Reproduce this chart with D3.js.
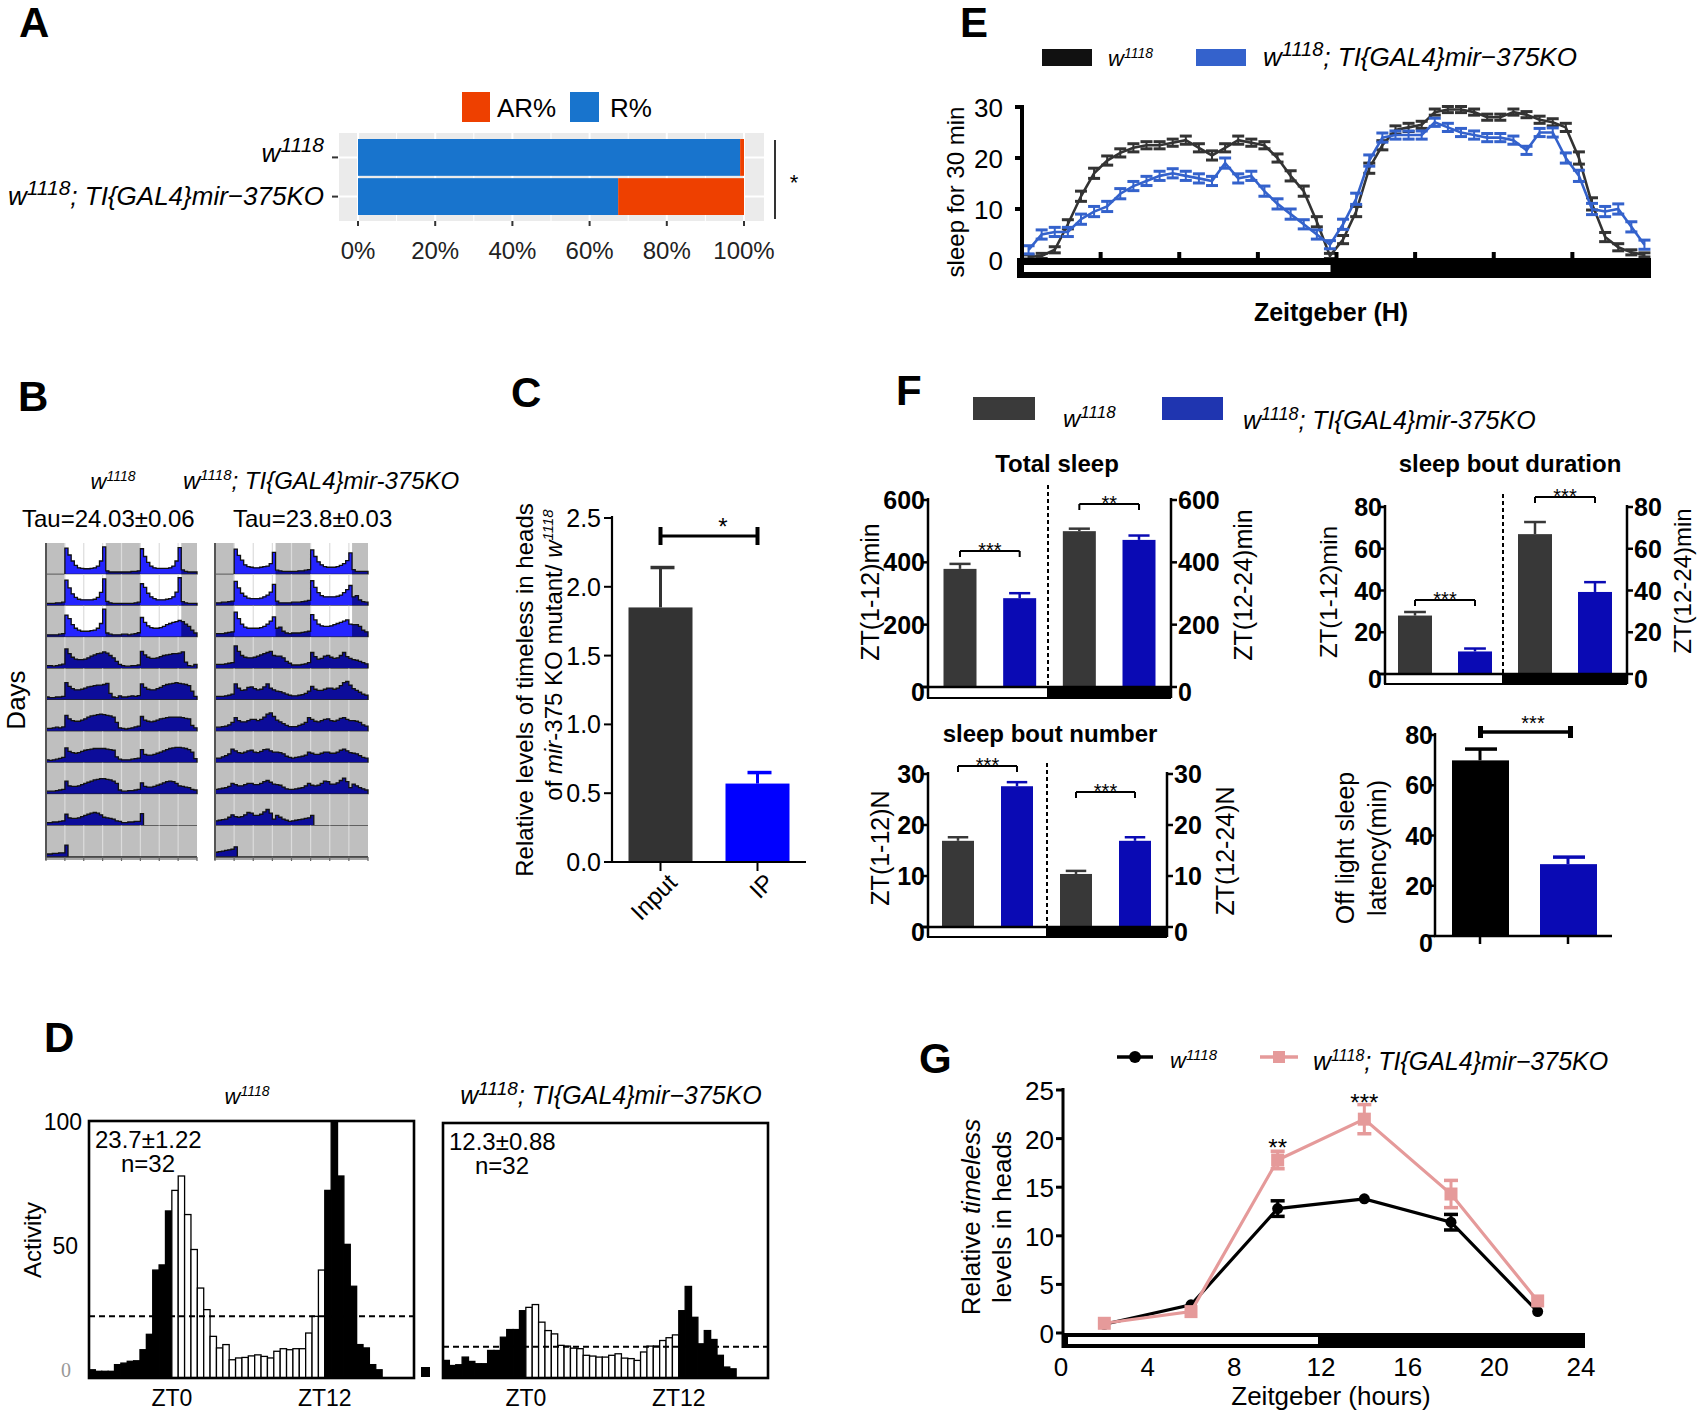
<!DOCTYPE html>
<html>
<head>
<meta charset="utf-8">
<script src="https://cdn.jsdelivr.net/npm/d3@7"></script>
<style>
  body { margin: 0; background: #fff; }
  text { font-family: "Liberation Sans", Arial, sans-serif; }
</style>
</head>
<body>
<div id="fig"></div>
<script>
// ---------- data ----------
// A: rhythmicity
const aGroups = ["w1118", "w1118; TI{GAL4}mir-375KO"];
const aR = [99, 67.4];
const aAR = [1, 32.6];
const aTicks = [0, 20, 40, 60, 80, 100];

// B: actogram, hourly activity per day (0-10 of row height)
const bTau = ["Tau=24.03±0.06", "Tau=23.8±0.03"];
const wtDays = [
  [null,null,null,null,null,null, 8.8,6.5,4.5,3,2.2,2,1.9,1.9,2,2.2,2.8,4.5,9.2,1.2,0.8,0.8,0.8,0.8],
  [0.8,0.8,0.8,1,1,1.2, 8.6,6,4,2.8,2.2,2,2,2,2,2.2,2.8,4.5,9,1.5,1,0.8,0.8,0.8],
  [0.8,0.8,0.8,0.8,1,1.2, 7.4,6.2,4.2,3,2.4,2,2,2,2.2,2.4,3,4.6,9.4,1.4,1,0.8,0.8,0.8],
  [1,1,0.8,1,1.2,1.5, 6.6,5,3.8,3.2,3,3,3.2,3.6,4.2,4.6,5,5.2,5.6,5.2,4.4,3.6,2.4,1.4],
  [1,0.8,0.8,1,1,1.2, 5.8,4.6,3.8,3.4,3.4,3.6,4,4.4,4.6,4.8,5,5,5.2,5.6,2.2,1,0.8,1.4],
  [1,1,1.2,1.4,1.2,1.5, 5.4,4.2,3.6,3.4,3.4,3.8,4.2,4.8,5.2,5.4,5.6,5.8,5.6,5.4,5.2,4.8,3,1.2],
  [1,0.8,1,1.2,1.5,1.8, 5,3.8,3.4,3.2,3.4,3.8,4.2,4.4,4.6,4.8,4.8,4.8,4.8,4.6,4.4,4.2,2,1.2],
  [1,1,1,1.2,1.4,1.6, 4.4,2.8,2.6,2.6,2.8,3.2,3.6,4,4.4,4.8,5,5.2,5.2,5,4.8,4.4,3.6,1.4],
  [1,1,1.2,1.2,1.4,1.6, 3.8,2.6,2.4,2.4,2.6,3,3.4,3.8,4.2,4.4,4.2,3.6,2.8,2.6,2.4,2.2,1.6,1.4],
  [1,1,1.2,1.2,1.4,1.4, 4]
];
const koDays = [
  [null,null,null,null,null,null, 8.5,6.4,4.8,3.2,2.6,2.4,2.2,2.2,2.4,2.6,2.8,3.6,7.4,1.4,1.2,1,1,1],
  [1,1,1.2,1.2,1.4,1.6, 8.2,6,4.2,3.2,2.6,2.4,2.4,2.4,2.6,3,3.6,4.6,7.2,1.6,1,1,1,1],
  [1.2,1.2,1.2,1.4,1.6,1.8, 8.4,6.2,4.4,3.4,3,3,3,3,3.2,3.6,4.4,5.4,6.8,3,3.4,2,1.4,1.2],
  [1.4,1.4,1.4,1.6,1.8,2, 7.6,5.8,4.4,3.8,3.6,3.6,3.8,4.2,4.6,5,5.4,5.8,4.4,4.2,4.2,3.6,2.4,1.8],
  [1.2,1.2,1.2,1.4,1.6,2, 5.4,4,3.2,3.4,4.2,4.4,3.8,3.4,3.6,4.4,5.4,4,3.4,3,2.8,2.4,2,1.6],
  [1.4,1.4,1.6,1.8,2.2,3, 4.6,3.6,3.2,3.2,3.6,4,4,3.6,4,4.8,5.8,6.2,5,3.8,3.2,2.6,2,1.6],
  [1.6,1.6,2,2.4,3,4.6, 4,3.4,3.2,3.6,4,4.2,3.6,3.4,3.8,4.4,4.6,4,3.6,3.6,3.4,3,2.2,1.8],
  [1.6,1.8,2,2.2,2.6,3.6, 3.2,2.8,2.8,3.2,3.6,3.6,3.2,3.2,3.6,4.2,4.6,4,3.4,3.2,3,2.4,1.8,1.6],
  [1.6,1.8,2,2.2,2.8,3.6, 3,2.8,3,3.6,4.4,4.2,3.4,3.4,3.8,4.6,5.4,4.2,2.2,3.4,2.8,2.2,1.8,1.4],
  [1.6,1.8,2,2.2,2.4,2.6, 3.4]
];

// C
const cCats = ["Input", "IP"];
const cMeans = [1.85, 0.57];
const cErr = [0.29, 0.08];
const cTicks = [0, 0.5, 1.0, 1.5, 2.0, 2.5];

// D: 30-min bins starting at ZT -6.5
const dWT = [3.2,2.6,2.6,2.6,5.2,5.8,6.5,6.7,11,17,42,44,65,
  73,78.6,63.6,50,35,26.6,16.2,11.7,13,7.1,7.8,8,8.6,9,8.4,7.8,10.4,11.4,11,11.4,11.4,17.5,24,42,
  73,100,78.6,52,35.7,13,11.7,5.2,3.2];
const dKO = [6.9,4.9,5.2,8.2,6.5,5.6,5.6,10.8,10.8,16,19,19,26.4,
  27.7,28.8,21.9,18.6,17.3,12.8,12.5,11.7,11.5,8.9,8.6,8.2,8.2,8.9,9.5,7.8,7.6,6.9,10.2,12.5,12.5,14.7,15.8,16.9,
  26.4,35.9,23.8,13.4,18.6,15.1,8.9,4.3,3.6];
const dThr = [24, 12.3];
const dStats = [["23.7±1.22", "n=32"], ["12.3±0.88", "n=32"]];

// E: sleep per 30 min
const eWT = [0.6,0.8,2,7,12.5,17,19.5,21,22,22.5,22.5,23,23.5,22,20.5,22,23.5,23,22.5,20,16.5,13.5,7.5,0.8,
  4,9.5,18,22.5,25.5,26,26.5,29,29.5,29.5,29,28,28,29,28.5,27.5,27,26,20,11,4.5,2.5,1.5,1];
const eKO = [2,5,5.5,5.5,8,9.5,10.5,13,14.5,15.5,16.5,17,16.5,16,15.5,19,16,16.5,13.5,11,9,7,5,3,
  7,12,19.5,24,24.5,24.5,24.5,27,26,25,24.5,24,24,23.5,21.5,25,25,20,16.5,10,9.5,10,6.5,3];
const eSemWT = [0.4,0.5,0.6,0.9,1.0,1.0,0.9,0.8,0.8,0.7,0.7,0.7,0.8,0.8,0.9,0.8,0.8,0.7,0.7,0.8,1.0,1.0,1.0,0.5,
  0.8,1.0,1.0,0.9,0.8,0.8,0.7,0.6,0.6,0.6,0.6,0.6,0.6,0.6,0.6,0.7,0.7,0.8,1.2,1.2,0.9,0.7,0.5,0.4];
const eSemKO = [0.8,0.9,0.9,0.9,1.0,1.0,1.0,1.0,0.9,0.9,0.9,0.9,0.9,0.9,0.9,1.0,0.9,0.9,1.0,1.0,1.0,0.9,0.9,0.8,
  1.0,1.1,1.1,0.9,0.8,0.8,0.8,0.8,0.8,0.8,0.8,0.8,0.8,0.8,0.8,0.8,0.9,1.0,1.1,1.1,1.0,1.0,1.0,0.9];

// F
const fCats = ["wL", "kL", "wD", "kD"];
const fTotal = [379, 285, 500, 472];
const fTotalErr = [16, 16, 8, 14];
const fBoutNum = [16.9, 27.6, 10.4, 16.9];
const fBoutNumErr = [0.7, 0.8, 0.6, 0.7];
const fBoutDur = [28, 10.8, 67, 39.3];
const fBoutDurErr = [1.7, 1.4, 5.8, 4.7];
const fLatency = [69.9, 28.6];
const fLatencyErr = [4.5, 2.8];

// G
const gZT = [2, 6, 10, 14, 18, 22];
const gWT = [0.9, 2.9, 12.8, 13.8, 11.4, 2.2];
const gWTerr = [0.3, 0.3, 0.8, 0.3, 0.8, 0.2];
const gKO = [1.0, 2.2, 17.8, 22.0, 14.3, 3.3];
const gKOerr = [0.3, 0.3, 0.9, 1.5, 1.4, 0.3];

// ---------- helpers ----------
const svg = d3.select("#fig").append("svg").attr("width", 1700).attr("height", 1413);

function txt(g, x, y, s, o = {}) {
  const t = g.append("text").attr("x", x).attr("y", y).text(s)
    .attr("font-size", o.fs || 24)
    .attr("text-anchor", o.anchor || "start")
    .attr("fill", o.fill || "#000");
  if (o.bold) t.attr("font-weight", "bold");
  if (o.italic) t.attr("font-style", "italic");
  if (o.family) t.style("font-family", o.family);
  if (o.rot) t.attr("transform", `rotate(${o.rot},${x},${y})`);
  return t;
}

function geno(g, x, y, suffix, o = {}) {
  const fs = o.fs || 24, ss = o.sup || fs * 0.72, up = o.up || fs * 0.38;
  const t = g.append("text").attr("x", x).attr("y", y).attr("font-size", fs)
    .attr("font-style", "italic").attr("text-anchor", o.anchor || "start");
  t.append("tspan").text("w");
  t.append("tspan").attr("font-size", ss).attr("dy", -up).text("1118");
  if (suffix) t.append("tspan").attr("dy", up).text(suffix);
  return t;
}

function line(g, x1, y1, x2, y2, w, c, dash) {
  const l = g.append("line").attr("x1", x1).attr("y1", y1).attr("x2", x2).attr("y2", y2)
    .attr("stroke", c || "#000").attr("stroke-width", w || 2);
  if (dash) l.attr("stroke-dasharray", dash);
  return l;
}

// panel letters
[["A", 19, 37], ["B", 18, 411], ["C", 511, 407], ["D", 44, 1052], ["E", 960, 37], ["F", 896, 405], ["G", 919, 1073]]
  .forEach(([s, x, y]) => txt(svg, x, y, s, { fs: 42, bold: true }));

// ---------- A ----------
const gA = svg.append("g");
const aX = d3.scaleLinear().domain([0, 100]).range([358, 744]);
const aY = d3.scaleBand().domain(aGroups).range([139, 215]).paddingInner(0.06);
gA.append("rect").attr("x", 339).attr("y", 133).attr("width", 425).attr("height", 88).attr("fill", "#ebebeb");
[10, 30, 50, 70, 90].forEach(v => line(gA, aX(v), 133, aX(v), 221, 1, "#fff"));
aTicks.forEach(v => line(gA, aX(v), 133, aX(v), 221, 2, "#fff"));
aGroups.forEach(gr => line(gA, 339, aY(gr) + aY.bandwidth() / 2, 764, aY(gr) + aY.bandwidth() / 2, 2, "#fff"));
aGroups.forEach((gr, i) => {
  gA.append("rect").attr("x", aX(0)).attr("y", aY(gr)).attr("width", aX(aR[i]) - aX(0))
    .attr("height", aY.bandwidth()).attr("fill", "#1874cd");
  gA.append("rect").attr("x", aX(aR[i])).attr("y", aY(gr)).attr("width", aX(aR[i] + aAR[i]) - aX(aR[i]))
    .attr("height", aY.bandwidth()).attr("fill", "#ee4000");
  const cy = aY(gr) + aY.bandwidth() / 2;
  line(gA, 332, cy, 338, cy, 2, "#333");
});
geno(gA, 324, aY(aGroups[0]) + aY.bandwidth() / 2 + 5, "", { fs: 26, sup: 21, up: 10, anchor: "end" });
geno(gA, 324, aY(aGroups[1]) + aY.bandwidth() / 2 + 8, "; TI{GAL4}mir\u2212375KO", { fs: 26, sup: 21, up: 10, anchor: "end" });
aTicks.forEach(v => {
  line(gA, aX(v), 221, aX(v), 226, 2, "#333");
  txt(gA, aX(v), 259, v + "%", { fs: 24, anchor: "middle", fill: "#222" });
});
gA.append("rect").attr("x", 462).attr("y", 92).attr("width", 28).attr("height", 30).attr("fill", "#ee4000");
txt(gA, 497, 117, "AR%", { fs: 26 });
gA.append("rect").attr("x", 570).attr("y", 92).attr("width", 29).attr("height", 30).attr("fill", "#1874cd");
txt(gA, 610, 117, "R%", { fs: 26 });
line(gA, 775, 140, 775, 219, 1.6, "#000");
txt(gA, 794, 190, "*", { fs: 22, anchor: "middle" });

// ---------- B ----------
const gB = svg.append("g");
geno(gB, 113, 489, "", { fs: 22, sup: 14, up: 8, anchor: "middle" });
geno(gB, 183, 489, "; TI{GAL4}mir-375KO", { fs: 24, sup: 15, up: 9 });
txt(gB, 22, 527, bTau[0], { fs: 24 });
txt(gB, 233, 527, bTau[1], { fs: 24 });
txt(gB, 25, 700, "Days", { fs: 26, anchor: "middle", rot: -90 });

const lightOn = [[6, 19], [30, 43]];
function actogram(days, x0, x1, id) {
  const g = gB.append("g");
  const tx = d3.scaleLinear().domain([0, 48]).range([x0, x1]);
  const rowY = d3.scaleBand().domain(d3.range(10)).range([543, 857]);
  const bw = rowY.bandwidth();
  const vy = d3.scaleLinear().domain([0, 10]).range([0, bw * 0.95]);
  const clip = svg.append("clipPath").attr("id", id);
  d3.range(3).forEach(r => lightOn.forEach(([a, b]) =>
    clip.append("rect").attr("x", tx(a)).attr("y", rowY(r)).attr("width", tx(b) - tx(a)).attr("height", bw)));
  d3.range(10).forEach(r => {
    const top = rowY(r), base = top + bw;
    g.append("rect").attr("x", x0).attr("y", top).attr("width", x1 - x0).attr("height", bw).attr("fill", "#bfbfbf");
    if (r < 3) lightOn.forEach(([a, b]) =>
      g.append("rect").attr("x", tx(a)).attr("y", top).attr("width", tx(b) - tx(a)).attr("height", bw).attr("fill", "#fff"));
    d3.range(6, 48, 6).forEach(t => line(g, tx(t), top, tx(t), base, 1.2, "#dcdcdc"));
    const pts = [];
    [[days[r], 0], [days[r + 1], 24]].forEach(([day, off]) => {
      if (!day) return;
      day.forEach((v, h) => {
        if (v == null) return;
        pts.push({ t: off + h, v }, { t: off + h + 1, v });
      });
    });
    if (!pts.length) return;
    pts.unshift({ t: pts[0].t, v: 0 });
    pts.push({ t: pts[pts.length - 1].t, v: 0 });
    const area = d3.area().x(d => tx(d.t)).y0(base).y1(d => base - vy(d.v));
    g.append("path").attr("d", area(pts)).attr("fill", "#0c0c9a");
    if (r < 3) g.append("path").attr("d", area(pts)).attr("fill", "#2424ff").attr("clip-path", `url(#${id})`);
    g.append("path").attr("d", d3.line().x(d => tx(d.t)).y(d => base - vy(d.v))(pts))
      .attr("fill", "none").attr("stroke", "#111").attr("stroke-width", 1.3);
    line(g, x0, base, x1, base, 1.3, "#222");
  });
  line(g, x0, 543, x0, 860, 2, "#555");
  line(g, x0, 859, x1, 859, 1.5, "#888");
  d3.range(0, 49, 6).forEach(t => line(g, tx(t), 857, tx(t), 861, 1.2, "#666"));
}
actogram(wtDays, 46, 197, "clipWT");
actogram(koDays, 215, 368, "clipKO");

// ---------- C ----------
const gC = svg.append("g");
const cY = d3.scaleLinear().domain([0, 2.5]).range([862, 518]);
const cX = d3.scalePoint().domain(cCats).range([612, 806]).padding(0.5);
const cCol = ["#333333", "#0000ff"];
cCats.forEach((c, i) => {
  const x = cX(c);
  gC.append("rect").attr("x", x - 32).attr("y", cY(cMeans[i])).attr("width", 64)
    .attr("height", cY(0) - cY(cMeans[i])).attr("fill", cCol[i]);
  line(gC, x, cY(cMeans[i]), x, cY(cMeans[i] + cErr[i]), 3, cCol[i]);
  line(gC, x - 10, cY(cMeans[i] + cErr[i]), x + 14, cY(cMeans[i] + cErr[i]), 3.5, cCol[i]);
  line(gC, x, 862, x, 871, 2, "#000");
  txt(gC, x + 18, 884, c, { fs: 24, anchor: "end", rot: -45 });
});
line(gC, 612, 516, 612, 863, 2.2);
line(gC, 611, 862, 806, 862, 2.2);
cTicks.forEach(v => {
  line(gC, 604, cY(v), 612, cY(v), 2);
  txt(gC, 601, cY(v) + 9, v.toFixed(1), { fs: 25, anchor: "end" });
});
line(gC, cX("Input"), 536, cX("IP"), 536, 3.2);
line(gC, cX("Input"), 527, cX("Input"), 545, 4);
line(gC, cX("IP"), 527, cX("IP"), 545, 4);
txt(gC, 723, 535, "*", { fs: 24, anchor: "middle" });
{
  txt(gC, 533, 690, "Relative levels of timeless in heads", { fs: 24, anchor: "middle", rot: -90 });
  const t2 = gC.append("text").attr("x", 562).attr("y", 655).attr("font-size", 24).attr("text-anchor", "middle")
    .attr("transform", "rotate(-90,562,655)");
  t2.append("tspan").text("of ");
  t2.append("tspan").attr("font-style", "italic").text("mir");
  t2.append("tspan").text("-375 KO mutant/ ");
  t2.append("tspan").attr("font-style", "italic").text("w");
  t2.append("tspan").attr("font-style", "italic").attr("font-size", 15).attr("dy", -9).text("1118");
}

// ---------- D ----------
const gD = svg.append("g");
function activity(vals, thr, stats, x0, x1, top, bot) {
  const x = d3.scaleLinear().domain([-6.5, 19]).range([x0, x1]);
  const y = d3.scaleLinear().domain([0, 100]).range([bot, top]);
  vals.forEach((v, i) => {
    const zt = -6.5 + i * 0.5;
    const light = zt >= 0 && zt < 12;
    gD.append("rect").attr("x", x(zt)).attr("y", y(v)).attr("width", x(zt + 0.5) - x(zt))
      .attr("height", y(0) - y(v)).attr("fill", light ? "#fff" : "#000")
      .attr("stroke", "#000").attr("stroke-width", 1.3);
  });
  line(gD, x0, y(thr), x1, y(thr), 2, "#000", "6,4");
  gD.append("rect").attr("x", x0).attr("y", top).attr("width", x1 - x0).attr("height", bot - top)
    .attr("fill", "none").attr("stroke", "#000").attr("stroke-width", 2.6);
  txt(gD, x0 + 6, top + 27, stats[0], { fs: 24 });
  txt(gD, x0 + 32, top + 51, stats[1], { fs: 24 });
  txt(gD, x(0), 1406, "ZT0", { fs: 23, anchor: "middle" });
  txt(gD, x(12), 1406, "ZT12", { fs: 23, anchor: "middle" });
}
activity(dWT, dThr[0], dStats[0], 89, 414, 1121, 1378);
activity(dKO, dThr[1], dStats[1], 443, 768, 1123, 1378);
geno(gD, 247, 1104, "", { fs: 22, sup: 14, up: 8, anchor: "middle" });
geno(gD, 611, 1104, "; TI{GAL4}mir\u2212375KO", { fs: 25, sup: 19, up: 9, anchor: "middle" });
txt(gD, 82, 1130, "100", { fs: 23, anchor: "end" });
txt(gD, 78, 1254, "50", { fs: 23, anchor: "end" });
txt(gD, 66, 1377, "0", { fs: 20, anchor: "middle", fill: "#999", family: '"Liberation Serif", serif' });
txt(gD, 41, 1240, "Activity", { fs: 24, anchor: "middle", rot: -90 });
gD.append("rect").attr("x", 421).attr("y", 1367).attr("width", 9).attr("height", 10).attr("fill", "#000");

// ---------- E ----------
const gE = svg.append("g");
const eX = d3.scaleLinear().domain([0, 24]).range([1022, 1651]);
const eY = d3.scaleLinear().domain([0, 30]).range([260, 107]);
const eZT = d3.range(48).map(i => 0.25 + i * 0.5);
gE.append("rect").attr("x", 1042).attr("y", 49).attr("width", 50).attr("height", 17).attr("fill", "#111");
geno(gE, 1108, 66, "", { fs: 22, sup: 14, up: 8 });
gE.append("rect").attr("x", 1196).attr("y", 49).attr("width", 50).attr("height", 17).attr("fill", "#3462cc");
geno(gE, 1263, 66, "; TI{GAL4}mir\u2212375KO", { fs: 26, sup: 20, up: 10 });
function eSeries(vals, sem, col) {
  vals.forEach((v, i) => {
    const x = eX(eZT[i]);
    line(gE, x, eY(v - sem[i]), x, eY(v + sem[i]), 2, col);
    line(gE, x - 6, eY(v + sem[i]), x + 6, eY(v + sem[i]), 3, col);
    line(gE, x - 6, eY(v - sem[i]), x + 6, eY(v - sem[i]), 3, col);
  });
  gE.append("path").attr("d", d3.line().x((d, i) => eX(eZT[i])).y(d => eY(d))(vals))
    .attr("fill", "none").attr("stroke", col).attr("stroke-width", 2.6);
}
eSeries(eWT, eSemWT, "#333333");
eSeries(eKO, eSemKO, "#3462cc");
gE.append("rect").attr("x", 1017).attr("y", 258).attr("width", 634).attr("height", 20).attr("fill", "#000");
gE.append("rect").attr("x", eX(0)).attr("y", 265).attr("width", eX(12) - eX(0) - 6).attr("height", 7).attr("fill", "#fff");
d3.range(3, 24, 3).forEach(t => gE.append("rect").attr("x", eX(t) - 2).attr("y", 252).attr("width", 4).attr("height", 7).attr("fill", "#000"));
line(gE, 1022, 105, 1022, 278, 4);
[10, 20, 30].forEach(v => line(gE, 1015, eY(v), 1022, eY(v), 4));
[0, 10, 20, 30].forEach(v => txt(gE, 1003, eY(v) + 10, v, { fs: 26, anchor: "end" }));
txt(gE, 964, 192, "sleep for 30 min", { fs: 24, anchor: "middle", rot: -90 });
txt(gE, 1331, 321, "Zeitgeber (H)", { fs: 25, anchor: "middle", bold: true });

// ---------- F ----------
const gF = svg.append("g");
gF.append("rect").attr("x", 973).attr("y", 397).attr("width", 62).attr("height", 23).attr("fill", "#3a3a3a");
geno(gF, 1063, 427, "", { fs: 24, sup: 17, up: 9 });
gF.append("rect").attr("x", 1162).attr("y", 397).attr("width", 61).attr("height", 23).attr("fill", "#1f35b0");
geno(gF, 1243, 429, "; TI{GAL4}mir-375KO", { fs: 25, sup: 18, up: 9 });

const fCol = ["#383838", "#0a0ab4", "#383838", "#0a0ab4"];
function sig(g, x1, x2, y, label, cap, sw, fs) {
  line(g, x1, y, x2, y, sw);
  line(g, x1, y - (cap < 0 ? -cap : 0), x1, y + (cap > 0 ? cap : 0), sw);
  line(g, x2, y - (cap < 0 ? -cap : 0), x2, y + (cap > 0 ? cap : 0), sw);
  txt(g, (x1 + x2) / 2, y + fs * 0.3, label, { fs, anchor: "middle" });
}
function split(o) {
  const y = d3.scaleLinear().domain([0, o.max]).range([o.y0, o.yT]);
  const x = d3.scalePoint().domain(fCats).range(o.xr);
  txt(gF, o.tx, o.ty, o.title, { fs: 24, bold: true, anchor: "middle" });
  fCats.forEach((c, i) => {
    const cx = x(c), v = o.vals[i], e = o.errs[i];
    gF.append("rect").attr("x", cx - o.bw / 2).attr("y", y(v)).attr("width", o.bw).attr("height", y(0) - y(v)).attr("fill", fCol[i]);
    line(gF, cx, y(v), cx, y(v + e), 2.5, fCol[i]);
    line(gF, cx - o.bw * 0.32, y(v + e), cx + o.bw * 0.32, y(v + e), 2.5, fCol[i]);
  });
  line(gF, o.div, o.divTop, o.div, o.y0, 2, "#000", "4,3");
  gF.append("rect").attr("x", o.axL).attr("y", o.y0).attr("width", o.div - o.axL).attr("height", o.ld)
    .attr("fill", "#fff").attr("stroke", "#000").attr("stroke-width", 2);
  gF.append("rect").attr("x", o.div).attr("y", o.y0).attr("width", o.axR - o.div).attr("height", o.ld + 1).attr("fill", "#000");
  line(gF, o.axL - 8, o.y0, o.axR, o.y0, 2.5);
  line(gF, o.axL, o.yT - 2, o.axL, o.y0 + o.ld, 2.5);
  line(gF, o.axR, o.yT - 2, o.axR, o.y0 + o.ld, 2.5);
  o.ticks.forEach(v => {
    line(gF, o.axL - 6, y(v), o.axL, y(v), 2.5);
    line(gF, o.axR, y(v), o.axR + 6, y(v), 2.5);
    const dy = v === 0 ? 14 : 9;
    txt(gF, o.axL - 3, y(v) + dy, v, { fs: 25, bold: true, anchor: "end" });
    txt(gF, o.axR + 7, y(v) + dy, v, { fs: 25, bold: true });
  });
  txt(gF, o.lxL, o.lyL, o.labL, { fs: o.lfs || 25, anchor: "middle", rot: -90 });
  txt(gF, o.lxR, o.lyR, o.labR, { fs: o.lfs || 25, anchor: "middle", rot: -90 });
  o.sig.forEach(s => sig(gF, x(fCats[s[0]]), x(fCats[s[1]]), s[2], s[3], 6, 2, 20));
}
split({ title: "Total sleep", tx: 1057, ty: 472, axL: 928, axR: 1171, y0: 687, yT: 500, max: 600,
  ticks: [0, 200, 400, 600], xr: [960, 1139], bw: 33, div: 1048, divTop: 485, ld: 11,
  vals: fTotal, errs: fTotalErr, sig: [[0, 1, 551, "***"], [2, 3, 504, "**"]],
  labL: "ZT(1-12)min", lxL: 879, lyL: 592, labR: "ZT(12-24)min", lxR: 1252, lyR: 585 });
split({ title: "sleep bout  number", tx: 1050, ty: 742, axL: 928, axR: 1167, y0: 927, yT: 774, max: 30,
  ticks: [0, 10, 20, 30], xr: [958, 1135], bw: 32, div: 1047, divTop: 763, ld: 10,
  vals: fBoutNum, errs: fBoutNumErr, sig: [[0, 1, 766, "***"], [2, 3, 792, "***"]],
  labL: "ZT(1-12)N", lxL: 889, lyL: 848, labR: "ZT(12-24)N", lxR: 1234, lyR: 851 });
split({ title: "sleep bout duration", tx: 1510, ty: 472, axL: 1385, axR: 1627, y0: 674, yT: 507, max: 80,
  ticks: [0, 20, 40, 60, 80], xr: [1415, 1595], bw: 34, div: 1503, divTop: 494, ld: 10, lfs: 24,
  vals: fBoutDur, errs: fBoutDurErr, sig: [[0, 1, 600, "***"], [2, 3, 497, "***"]],
  labL: "ZT(1-12)min", lxL: 1337, lyL: 592, labR: "ZT(12-24)min", lxR: 1691, lyR: 581 });
{
  const y = d3.scaleLinear().domain([0, 80]).range([936, 735]);
  const x = d3.scalePoint().domain(["w", "k"]).range([1480, 1568]);
  const cols = ["#000", "#0a0ab4"];
  ["w", "k"].forEach((c, i) => {
    const cx = x(c), v = fLatency[i], e = fLatencyErr[i];
    gF.append("rect").attr("x", cx - 28).attr("y", y(v)).attr("width", 57).attr("height", y(0) - y(v)).attr("fill", cols[i]);
    line(gF, cx, y(v), cx, y(v + e), 3, cols[i]);
    line(gF, cx - 15, y(v + e), cx + 17, y(v + e), 3.5, cols[i]);
    line(gF, cx, 936, cx, 944, 2.5);
  });
  line(gF, 1435, 733, 1435, 937, 2.5);
  line(gF, 1434, 936, 1612, 936, 2.5);
  [0, 20, 40, 60, 80].forEach(v => {
    line(gF, 1429, y(v), 1435, y(v), 2.5);
    txt(gF, 1433, y(v) + (v === 0 ? 16 : 9), v, { fs: 25, bold: true, anchor: "end" });
  });
  line(gF, x("w"), 732, x("k") + 3, 732, 3.5);
  gF.append("rect").attr("x", x("w") - 2).attr("y", 726).attr("width", 5).attr("height", 12).attr("fill", "#000");
  gF.append("rect").attr("x", x("k")).attr("y", 726).attr("width", 5).attr("height", 12).attr("fill", "#000");
  txt(gF, 1533, 730, "***", { fs: 20, anchor: "middle" });
  txt(gF, 1354, 848, "Off light sleep", { fs: 25, anchor: "middle", rot: -90 });
  txt(gF, 1386, 848, "latency(min)", { fs: 25, anchor: "middle", rot: -90 });
}

// ---------- G ----------
const gG = svg.append("g");
const gx = d3.scaleLinear().domain([0, 24]).range([1061, 1581]);
const gy = d3.scaleLinear().domain([0, 25]).range([1333, 1090]);
const pink = "#e59a9a";
line(gG, 1117, 1057, 1153, 1057, 3.5);
gG.append("circle").attr("cx", 1135).attr("cy", 1057).attr("r", 6).attr("fill", "#000");
geno(gG, 1170, 1068, "", { fs: 22, sup: 15, up: 8 });
line(gG, 1260, 1057, 1298, 1057, 3.5, pink);
gG.append("rect").attr("x", 1273).attr("y", 1051).attr("width", 12).attr("height", 12).attr("fill", pink);
geno(gG, 1313, 1070, "; TI{GAL4}mir\u2212375KO", { fs: 25, sup: 16, up: 9 });

function gSeries(vals, errs, col, marker) {
  gG.append("path").attr("d", d3.line().x((d, i) => gx(gZT[i])).y(d => gy(d))(vals))
    .attr("fill", "none").attr("stroke", col).attr("stroke-width", 3.2);
  vals.forEach((v, i) => {
    const x = gx(gZT[i]);
    if (errs[i] > 0.5) {
      line(gG, x, gy(v - errs[i]), x, gy(v + errs[i]), 3, col);
      line(gG, x - 7, gy(v + errs[i]), x + 7, gy(v + errs[i]), 3.5, col);
      line(gG, x - 7, gy(v - errs[i]), x + 7, gy(v - errs[i]), 3.5, col);
    }
    if (marker === "circle") gG.append("circle").attr("cx", x).attr("cy", gy(v)).attr("r", 5.5).attr("fill", col);
    else gG.append("rect").attr("x", x - 6.5).attr("y", gy(v) - 6.5).attr("width", 13).attr("height", 13).attr("fill", col);
  });
}
gSeries(gWT, gWTerr, "#000", "circle");
gSeries(gKO, gKOerr, pink, "square");
gG.append("rect").attr("x", 1063).attr("y", 1333).attr("width", 522).attr("height", 15).attr("fill", "#000");
gG.append("rect").attr("x", 1068).attr("y", 1337).attr("width", gx(12) - 1068 - 3).attr("height", 7).attr("fill", "#fff");
line(gG, 1063, 1088, 1063, 1348, 3);
d3.range(0, 26, 5).forEach(v => {
  line(gG, 1056, gy(v), 1063, gy(v), 3);
  txt(gG, 1054, gy(v) + 10, v, { fs: 26, anchor: "end" });
});
d3.range(0, 25, 4).forEach(v => txt(gG, gx(v), 1376, v, { fs: 26, anchor: "middle" }));
txt(gG, 1331, 1405, "Zeitgeber (hours)", { fs: 26, anchor: "middle" });
txt(gG, gx(10), 1156, "**", { fs: 24, anchor: "middle" });
txt(gG, gx(14), 1111, "***", { fs: 24, anchor: "middle" });
{
  const t = gG.append("text").attr("x", 980).attr("y", 1217).attr("font-size", 26).attr("text-anchor", "middle")
    .attr("transform", "rotate(-90,980,1217)");
  t.append("tspan").text("Relative ");
  t.append("tspan").attr("font-style", "italic").text("timeless");
  txt(gG, 1011, 1217, "levels in heads", { fs: 26, anchor: "middle", rot: -90 });
}
</script>
</body>
</html>
